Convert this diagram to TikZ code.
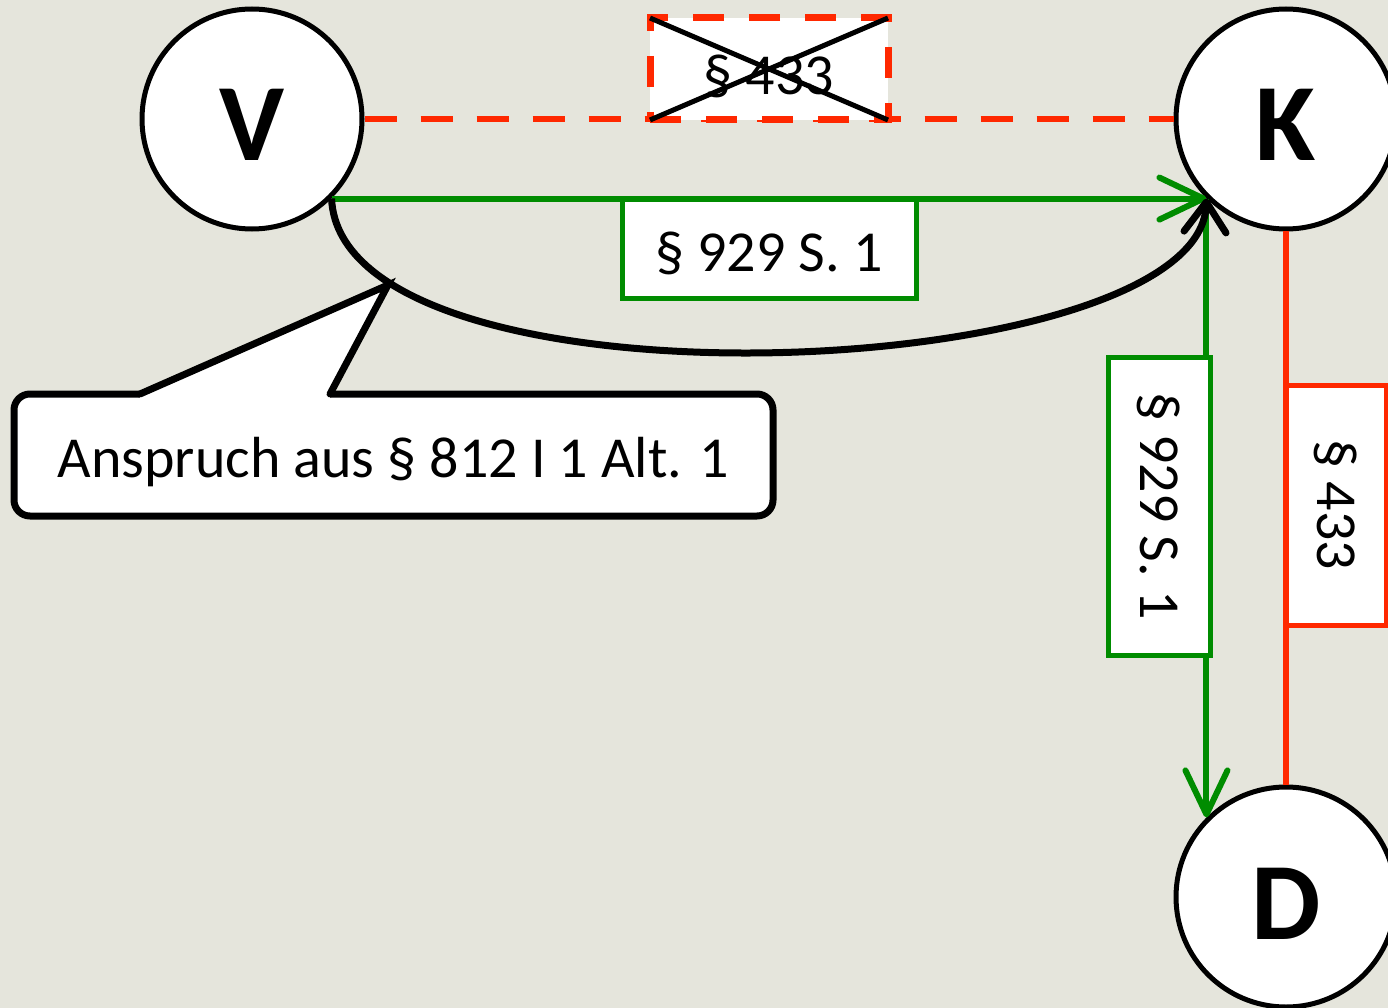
\documentclass[tikz,border=0pt]{standalone}
\usepackage{fontspec}
\setmainfont{Carlito}
\usetikzlibrary{arrows.meta,calc}
\definecolor{bg}{RGB}{229,229,220}
\definecolor{lawred}{RGB}{255,40,0}
\definecolor{lawgreen}{RGB}{0,140,0}
\begin{document}
\begin{tikzpicture}[x=1pt,y=-1pt,
  party/.style={circle, draw=black, line width=5pt, fill=white, minimum size=220pt, inner sep=0pt,
    font=\fontsize{110}{110}\selectfont\bfseries, text height=84pt, text depth=0pt},
  lbl/.style={font=\fontsize{58}{60}\selectfont},
  greenbox/.style={lbl, draw=lawgreen, fill=white, line width=5pt, inner sep=0pt, outer sep=0pt},
  redbox/.style={lbl, draw=lawred, fill=white, line width=5pt, inner sep=0pt, outer sep=0pt},
  greenline/.style={draw=lawgreen, line width=6pt},
  redline/.style={draw=lawred, line width=6pt},
  gtip/.style={-{Straight Barb[length=44pt,width=42pt,round]}},
  ktip/.style={-{Straight Barb[length=30pt,width=42pt,round]}},
]
\useasboundingbox (0,0) rectangle (1388,1008);
\fill[bg] (0,0) rectangle (1388,1008);

% parties
\node[party] (V) at (252,119) {V};
\node[party] (K) at (1286,119) {K};
\node[party] (D) at (1286,897) {D};

% failed contract V-K
\draw[redline, line width=6.5pt, dash pattern=on 32pt off 24pt] (V.east) -- (K.west);
\node[redbox, line width=7pt, dash pattern=on 31pt off 25pt, minimum width=238pt, minimum height=102pt,
  text height=52pt, text depth=1pt] (x) at (769,69) {\S\ 433};
\draw[line width=5pt] (x.north west) -- (x.south east) (x.south west) -- (x.north east);

% transfer V -> K
\draw[greenline, gtip] (V.-45) -- (K.-135);
\node[greenbox, minimum width=294pt, minimum height=98pt, text height=46pt, text depth=2pt] (g1) at (769,249) {\S\ 929 S. 1};

% transfer K -> D
\draw[greenline, gtip] (K.-135) -- (D.135);
\node[greenbox, rotate=-90, minimum width=298pt, minimum height=102pt] (g2) at (1159,506) {\S\ 929 S. 1};

% claim
\draw[line width=7pt, ktip] (V.-45) .. controls +(10,223) and +(-8,186) .. (K.-135);

% contract K-D
\draw[redline] (K.south) -- (D.north);
\node[redbox, rotate=-90, minimum width=240pt, minimum height=100pt] (r2) at (1336,505) {\S\ 433};

% callout
\node[lbl, fill=white, rounded corners=16pt, minimum width=759pt, minimum height=122pt, inner sep=0pt, outer sep=0pt,
  text height=50pt, text depth=6pt] (c) at (393.5,455) {Anspruch aus \S\ 812 I 1 Alt. 1};
\coordinate (tip) at (388,285);
\coordinate (b1) at ($(c.north west)+(126,0)$);
\coordinate (b2) at ($(c.north west)+(316,0)$);
\fill[white] (b1) -- (tip) -- (b2) -- cycle;
\draw[line width=7pt, rounded corners=16pt] (b2) -- (c.north east) -- (c.south east) -- (c.south west) -- (c.north west) -- (b1);
\draw[line width=7pt, line join=miter, miter limit=20, line cap=round] (b1) -- (tip) -- (b2);
\end{tikzpicture}
\end{document}
